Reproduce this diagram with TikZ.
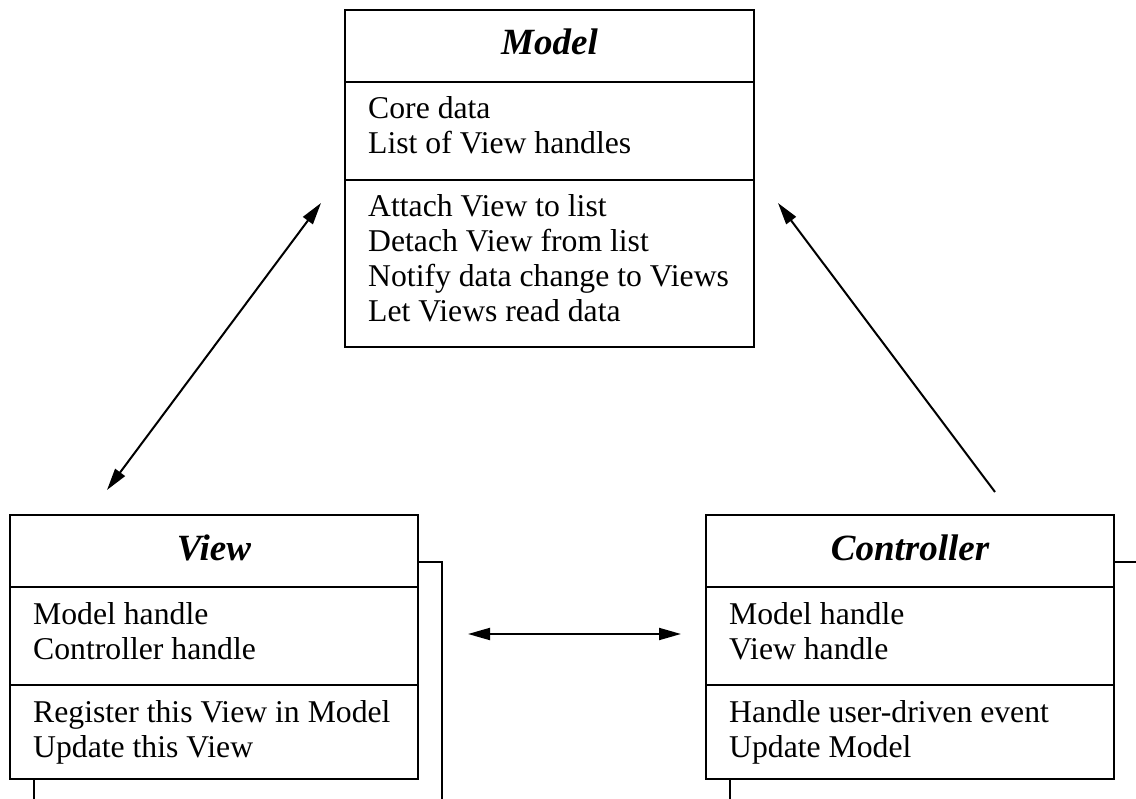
\documentclass[tikz,border=0pt]{standalone}
\usepackage{fontspec}
\setmainfont{Liberation Serif}
\usetikzlibrary{arrows.meta}
\begin{document}
\begin{tikzpicture}[x=1pt,y=-1pt,
  box/.style={draw, line width=2pt, inner sep=0pt, outer sep=0pt, anchor=north west},
  rule/.style={line width=2pt},
  ttl/.style={font=\fontsize{37}{40}\selectfont\bfseries\itshape, anchor=base, inner sep=0pt},
  txt/.style={font=\fontsize{31.7}{35}\selectfont, anchor=base west, inner sep=0pt},
  >={Triangle[length=22pt,width=12pt]},
  conn/.style={line width=2pt}]
\useasboundingbox (0,0) rectangle (1136,799);

% ---------- Model ----------
\node[box, minimum width=409pt, minimum height=337pt] (model) at (345,10) {};
\draw[rule] (345,82) -- (754,82);
\draw[rule] (345,180) -- (754,180);
\node[ttl] (mt) at (549.5,55) {Model};
\node[txt] (m1) at (368,119) {Core data};
\node[txt] (m2) at (368,154) {List of View handles};
\node[txt] (m3) at (368,217) {Attach View to list};
\node[txt] (m4) at (368,252) {Detach View from list};
\node[txt] (m5) at (368,287) {Notify data change to Views};
\node[txt] (m6) at (368,322) {Let Views read data};

% ---------- View ----------
\draw[rule] (418,562) -- (442,562) -- (442,800);
\draw[rule] (34,779) -- (34,800);
\node[box, fill=white, minimum width=408pt, minimum height=264pt] (view) at (10,515) {};
\draw[rule] (10,587) -- (418,587);
\draw[rule] (10,685) -- (418,685);
\node[ttl] (vt) at (214,560) {View};
\node[txt] (v1) at (33,624) {Model handle};
\node[txt] (v2) at (33,659) {Controller handle};
\node[txt] (v3) at (33,722) {Register this View in Model};
\node[txt] (v4) at (33,757) {Update this View};

% ---------- Controller ----------
\draw[rule] (1114,562) -- (1137,562);
\draw[rule] (730,779) -- (730,800);
\node[box, fill=white, minimum width=408pt, minimum height=264pt] (ctrl) at (706,515) {};
\draw[rule] (706,587) -- (1114,587);
\draw[rule] (706,685) -- (1114,685);
\node[ttl] (ct) at (910,560) {Controller};
\node[txt] (c1) at (729,624) {Model handle};
\node[txt] (c2) at (729,659) {View handle};
\node[txt] (c3) at (729,722) {Handle user-driven event};
\node[txt] (c4) at (729,757) {Update Model};

% ---------- connectors ----------
\coordinate (vm1) at (107,490);
\coordinate (vm2) at (321,203);
\coordinate (cm1) at (995,492);
\coordinate (cm2) at (778,203);
\coordinate (vc1) at (468,634);
\coordinate (vc2) at (681,634);
\draw[conn, <->] (vm1) -- (vm2);
\draw[conn, ->] (cm1) -- (cm2);
\draw[conn, <->] (vc1) -- (vc2);
\end{tikzpicture}
\end{document}
